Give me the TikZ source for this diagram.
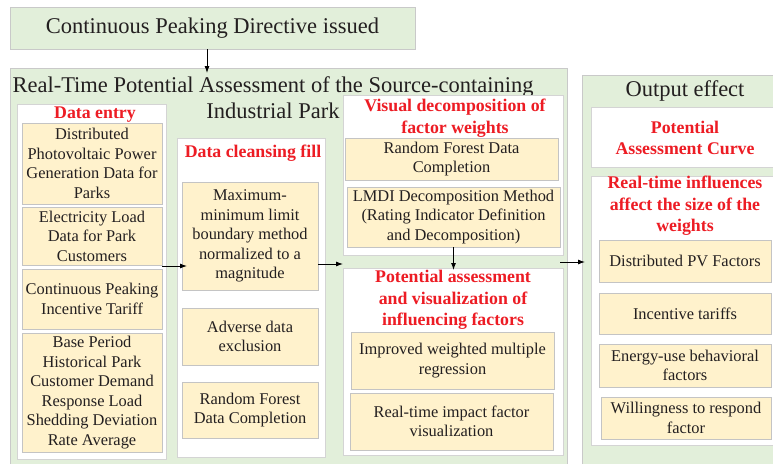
\documentclass[tikz,border=0pt]{standalone}
\usepackage{fontspec}
\setmainfont{Liberation Serif}
\usetikzlibrary{arrows.meta}
\definecolor{gfill}{HTML}{E2EFDA}
\definecolor{yfill}{HTML}{FFF2CC}
\definecolor{gbord}{HTML}{C9C9C9}
\definecolor{ybord}{HTML}{C4C4C4}
\definecolor{hred}{HTML}{ED1C24}
\definecolor{txt}{HTML}{231F20}
\tikzset{
  base/.style={inner sep=0pt, outer sep=0pt, line width=0.9pt},
  grn/.style={base, draw=gbord, fill=gfill, text=txt, font=\fontsize{22.5}{26}\selectfont},
  wht/.style={base, draw=gbord!80, fill=white},
  ylw/.style={base, draw=ybord, fill=yfill, text=txt, align=center, font=\fontsize{16.4}{19.5}\selectfont},
  hdr/.style={inner sep=0pt, text=hred, align=center, font=\fontsize{17.8}{21.5}\selectfont\bfseries},
  ttl/.style={inner sep=0pt, text=txt, align=center, font=\fontsize{22.5}{26}\selectfont},
  arr/.style={-{Latex[length=7pt,width=5pt]}, line width=0.9pt, black}
}
\begin{document}
\begin{tikzpicture}[x=1pt,y=-1pt]
\clip (0,0) rectangle (773,463);
\fill[white] (0,0) rectangle (773,463);
% top
\node[grn, minimum width=405pt, minimum height=42pt] (top) at (212.5,28) {Continuous Peaking Directive issued};
% main container
\node[grn, minimum width=557pt, minimum height=402pt] (main) at (288.5,269) {};
\node[ttl] (mtitle) at (273,98) {Real-Time Potential Assessment of the Source-containing\\Industrial Park};
% output container
\node[grn, minimum width=208pt, minimum height=395pt] (out) at (686,272.5) {};
\node[ttl] (otitle) at (685,91) {Output effect};
% data entry
\node[wht, minimum width=149pt, minimum height=355pt] (de) at (91.5,281.5) {};
\node[hdr] (deh) at (95,115) {Data entry};
\node[ylw, minimum width=140pt, minimum height=81pt] (de1) at (92,163.5) {Distributed\\Photovoltaic Power\\Generation Data for\\Parks};
\node[ylw, minimum width=140pt, minimum height=58pt] (de2) at (92,236) {Electricity Load\\Data for Park\\Customers};
\node[ylw, minimum width=140pt, minimum height=60pt] (de3) at (92,299) {Continuous Peaking\\Incentive Tariff};
\node[ylw, minimum width=140pt, minimum height=119pt] (de4) at (92,392.5) {Base Period\\Historical Park\\Customer Demand\\Response Load\\Shedding Deviation\\Rate Average};
% data cleansing
\node[wht, minimum width=148pt, minimum height=319pt] (dc) at (251,297.5) {};
\node[hdr] (dch) at (253,153) {Data cleansing fill};
\node[ylw, minimum width=136pt, minimum height=108pt] (dc1) at (250,236) {Maximum-\\minimum limit\\boundary method\\normalized to a\\magnitude};
\node[ylw, minimum width=136pt, minimum height=57pt] (dc2) at (250,336.5) {Adverse data\\exclusion};
\node[ylw, minimum width=136pt, minimum height=56pt] (dc3) at (250,410) {Random Forest\\Data Completion};
% visual decomposition
\node[wht, minimum width=220pt, minimum height=160pt] (vd) at (453,175) {};
\node[hdr] (vdh) at (455,118) {Visual decomposition of\\factor weights};
\node[ylw, minimum width=213pt, minimum height=42pt] (vd1) at (451.5,159) {Random Forest Data\\Completion};
\node[ylw, minimum width=213pt, minimum height=60pt] (vd2) at (453.5,217) {LMDI Decomposition Method\\(Rating Indicator Definition\\and Decomposition)};
% potential assessment
\node[wht, minimum width=220pt, minimum height=187pt] (pa) at (453,361.5) {};
\node[hdr] (pah) at (453,300) {Potential assessment\\and visualization of\\influencing factors};
\node[ylw, minimum width=203pt, minimum height=57pt] (pa1) at (452.5,360.5) {Improved weighted multiple\\regression};
\node[ylw, minimum width=203pt, minimum height=57pt] (pa2) at (451.5,421.5) {Real-time impact factor\\visualization};
% output items
\node[wht, minimum width=189pt, minimum height=60pt] (oc) at (685.5,137) {};
\node[hdr] (och) at (685,138) {Potential\\Assessment Curve};
\node[wht, minimum width=189pt, minimum height=269pt] (oi) at (685.5,310.5) {};
\node[hdr] (oih) at (685,206) {Real-time influences\\affect the size of the\\weights};
\node[ylw, minimum width=172pt, minimum height=42pt] (oi1) at (685,261) {Distributed PV Factors};
\node[ylw, minimum width=172pt, minimum height=41pt] (oi2) at (685,313.5) {Incentive tariffs};
\node[ylw, minimum width=172pt, minimum height=43pt] (oi3) at (685,365.5) {Energy-use behavioral\\factors};
\node[ylw, minimum width=170pt, minimum height=42pt] (oi4) at (686,418) {Willingness to respond\\factor};
% connectors
\coordinate (ax) at (207,0);
\coordinate (r1) at (0,264);
\coordinate (r2) at (0,262);
\coordinate (r3) at (0,266);
\draw[arr, shorten >=-5pt] (top.south -| ax) -- (main.north -| ax);
\draw[arr, shorten >=-5pt] (de2.east |- r3) -- (dc1.west |- r3);
\draw[arr] (dc1.east |- r1) -- (pa.west |- r1);
\draw[arr, shorten >=-2pt] (vd2.south) -- (vd2.south |- pa.north);
\draw[arr, shorten >=-3pt] (vd2.east |- r2) -- (out.west |- r2);
\end{tikzpicture}
\end{document}
